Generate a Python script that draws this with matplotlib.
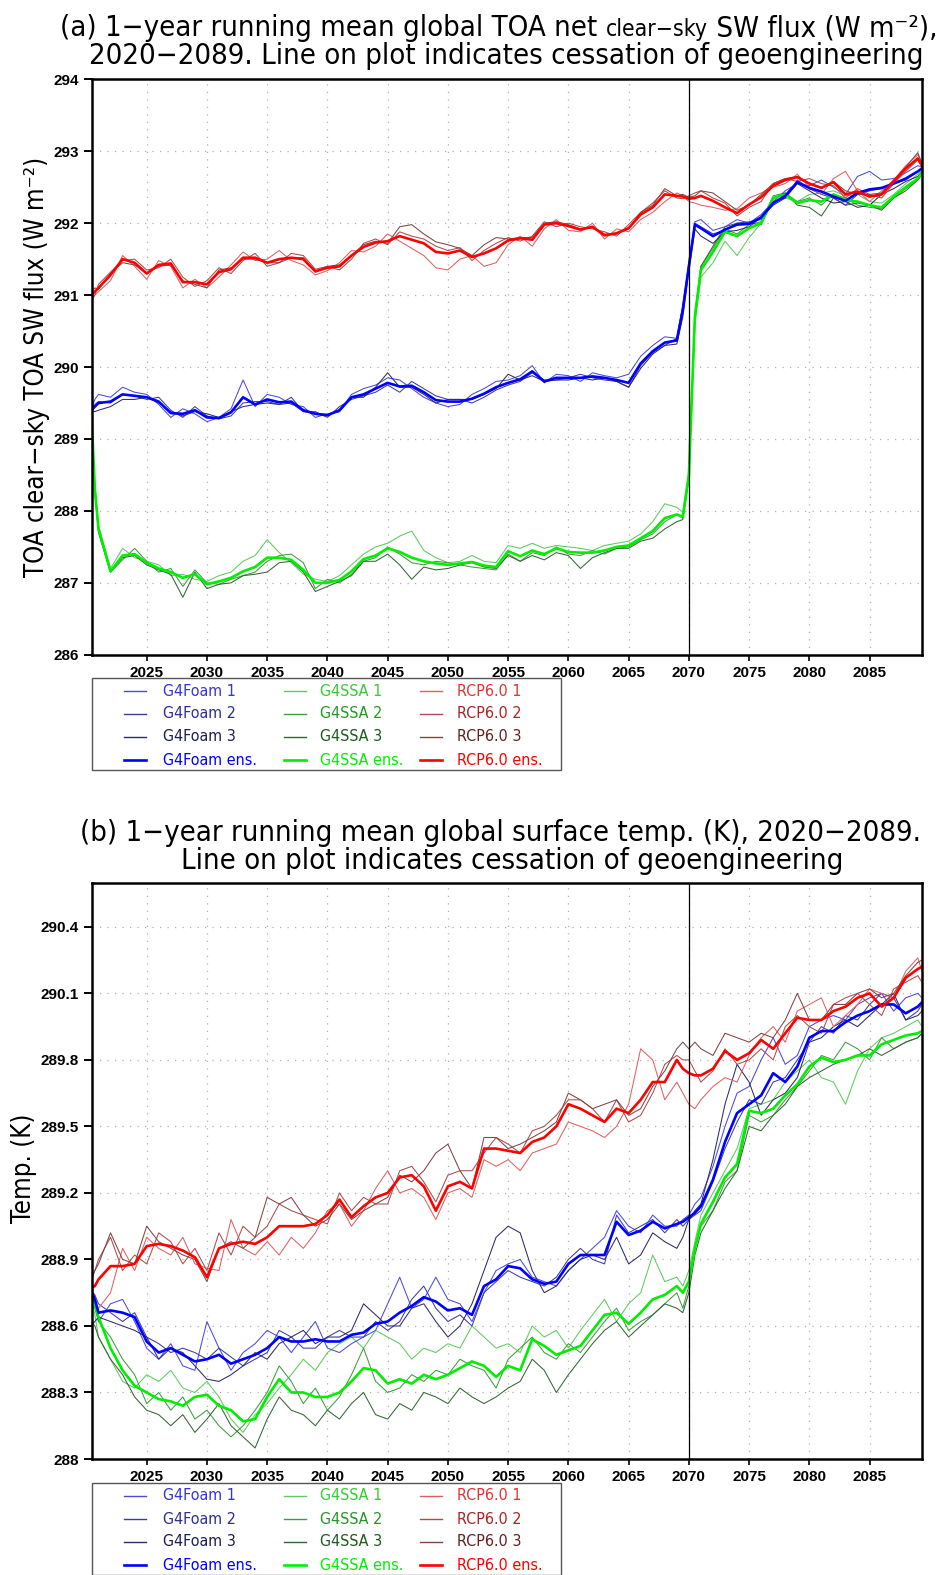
import matplotlib
matplotlib.use('Agg')
import matplotlib.pyplot as plt
from matplotlib.offsetbox import TextArea, HPacker, AnnotationBbox
from matplotlib.lines import Line2D
from matplotlib.patches import Rectangle

# ---------------- data ----------------
# common time axis: start, yearly points, extra points around the 2070 switch-off
YEARS = ([2020.4, 2020.7] + list(range(2021, 2070)) + [2069.5, 2070, 2070.5]
         + list(range(2071, 2090)) + [2089.35])

# (a) TOA clear-sky SW flux
sw_foam_ens = [289.40, 289.45,
    289.50, 289.52, 289.62, 289.60, 289.58, 289.52, 289.36, 289.35, 289.40, 289.30,
    289.29, 289.37, 289.58, 289.48, 289.55, 289.51, 289.52, 289.40, 289.35, 289.33,
    289.40, 289.58, 289.62, 289.70, 289.78, 289.73, 289.74, 289.65, 289.54, 289.52,
    289.52, 289.56, 289.63, 289.72, 289.78, 289.83, 289.94, 289.80, 289.85, 289.85,
    289.85, 289.87, 289.85, 289.82, 289.78, 290.05, 290.22, 290.34, 290.37,
    290.80, 291.40, 291.98,
    291.93, 291.82, 291.91, 291.98, 291.99, 292.08, 292.28, 292.38, 292.57, 292.49,
    292.44, 292.37, 292.31, 292.42, 292.47, 292.49, 292.55, 292.62, 292.72,
    292.76]
sw_foam_1 = [289.40, 289.55,
    289.62, 289.58, 289.72, 289.65, 289.62, 289.48, 289.30, 289.42, 289.35, 289.24,
    289.30, 289.42, 289.82, 289.45, 289.62, 289.58, 289.48, 289.45, 289.30, 289.35,
    289.38, 289.62, 289.70, 289.75, 289.85, 289.82, 289.70, 289.58, 289.50, 289.45,
    289.48, 289.62, 289.70, 289.80, 289.82, 289.88, 290.02, 289.78, 289.90, 289.88,
    289.80, 289.92, 289.88, 289.85, 289.90, 290.15, 290.30, 290.42, 290.40,
    290.85, 291.45, 292.02,
    292.05, 291.90, 291.95, 292.05, 292.00, 292.12, 292.30, 292.45, 292.55, 292.52,
    292.60, 292.50, 292.40, 292.65, 292.72, 292.60, 292.62, 292.70, 292.80,
    292.78]
sw_foam_2 = [289.40, 289.48,
    289.52, 289.50, 289.62, 289.60, 289.55, 289.58, 289.40, 289.30, 289.45, 289.32,
    289.28, 289.32, 289.50, 289.52, 289.52, 289.48, 289.58, 289.38, 289.38, 289.30,
    289.45, 289.55, 289.60, 289.65, 289.75, 289.65, 289.80, 289.70, 289.60, 289.55,
    289.55, 289.50, 289.58, 289.68, 289.75, 289.80, 289.92, 289.82, 289.82, 289.85,
    289.90, 289.85, 289.82, 289.80, 289.72, 290.02, 290.20, 290.30, 290.40,
    290.85, 291.42, 292.00,
    291.95, 291.85, 291.90, 292.00, 292.02, 292.05, 292.30, 292.35, 292.60, 292.48,
    292.40, 292.35, 292.25, 292.40, 292.45, 292.48, 292.55, 292.60, 292.72,
    292.78]
sw_foam_3 = [289.40, 289.38,
    289.40, 289.45, 289.55, 289.55, 289.58, 289.50, 289.38, 289.32, 289.38, 289.35,
    289.30, 289.38, 289.45, 289.48, 289.50, 289.48, 289.50, 289.38, 289.36, 289.34,
    289.38, 289.58, 289.58, 289.72, 289.92, 289.72, 289.72, 289.62, 289.50, 289.55,
    289.55, 289.55, 289.62, 289.70, 289.90, 289.82, 289.88, 289.80, 289.82, 289.82,
    289.85, 289.82, 289.85, 289.80, 289.72, 289.98, 290.18, 290.30, 290.32,
    290.70, 291.35, 291.92,
    291.82, 291.72, 291.88, 291.90, 291.95, 292.08, 292.25, 292.35, 292.55, 292.45,
    292.35, 292.28, 292.30, 292.22, 292.25, 292.40, 292.48, 292.58, 292.65,
    292.72]

sw_ssa_ens = [289.40, 288.30,
    287.75, 287.16, 287.38, 287.40, 287.28, 287.20, 287.15, 287.07, 287.12, 286.98,
    287.02, 287.07, 287.16, 287.22, 287.35, 287.35, 287.32, 287.18, 287.00, 287.00,
    287.04, 287.16, 287.33, 287.38, 287.48, 287.43, 287.35, 287.30, 287.27, 287.25,
    287.27, 287.29, 287.24, 287.22, 287.44, 287.37, 287.45, 287.40, 287.48, 287.43,
    287.42, 287.42, 287.45, 287.50, 287.52, 287.62, 287.72, 287.90, 287.95,
    287.92, 288.50, 290.70,
    291.35, 291.60, 291.88, 291.82, 291.93, 292.00, 292.35, 292.40, 292.28, 292.32,
    292.30, 292.40, 292.32, 292.30, 292.25, 292.22, 292.37, 292.50, 292.62,
    292.70]
sw_ssa_1 = [289.40, 288.35,
    287.80, 287.20, 287.48, 287.35, 287.30, 287.25, 287.10, 287.12, 287.05, 287.02,
    287.10, 287.15, 287.30, 287.38, 287.60, 287.42, 287.28, 287.12, 287.05, 287.02,
    287.10, 287.25, 287.40, 287.50, 287.55, 287.65, 287.72, 287.45, 287.35, 287.28,
    287.30, 287.38, 287.30, 287.28, 287.52, 287.48, 287.55, 287.48, 287.52, 287.50,
    287.48, 287.45, 287.52, 287.55, 287.58, 287.68, 287.85, 288.10, 288.05,
    287.98, 288.55, 290.60,
    291.25, 291.45, 291.75, 291.55, 291.80, 292.00, 292.30, 292.35, 292.30, 292.40,
    292.42, 292.45, 292.38, 292.40, 292.30, 292.28, 292.40, 292.55, 292.68,
    292.75]
sw_ssa_2 = [289.40, 288.25,
    287.72, 287.15, 287.32, 287.48, 287.30, 287.15, 287.20, 286.95, 287.18, 287.00,
    286.98, 287.05, 287.10, 287.15, 287.30, 287.38, 287.40, 287.28, 286.92, 287.05,
    287.00, 287.12, 287.30, 287.35, 287.50, 287.40, 287.28, 287.25, 287.30, 287.28,
    287.25, 287.22, 287.20, 287.18, 287.40, 287.30, 287.42, 287.38, 287.50, 287.40,
    287.38, 287.45, 287.40, 287.48, 287.50, 287.60, 287.68, 287.85, 287.95,
    287.90, 288.48, 290.75,
    291.40, 291.65, 291.92, 291.85, 291.98, 292.02, 292.38, 292.42, 292.30, 292.35,
    292.25, 292.40, 292.35, 292.25, 292.22, 292.20, 292.35, 292.48, 292.60,
    292.68]
sw_ssa_3 = [289.40, 288.28,
    287.70, 287.15, 287.35, 287.38, 287.25, 287.18, 287.12, 286.80, 287.15, 286.92,
    286.98, 287.00, 287.10, 287.12, 287.15, 287.28, 287.30, 287.15, 286.88, 286.95,
    287.02, 287.10, 287.30, 287.30, 287.40, 287.25, 287.05, 287.22, 287.18, 287.20,
    287.25, 287.28, 287.22, 287.20, 287.38, 287.30, 287.38, 287.32, 287.42, 287.38,
    287.20, 287.35, 287.42, 287.48, 287.48, 287.58, 287.62, 287.75, 287.85,
    287.88, 288.45, 290.72,
    291.40, 291.68, 291.95, 292.00, 292.00, 291.98, 292.35, 292.42, 292.25, 292.22,
    292.10, 292.35, 292.25, 292.28, 292.25, 292.18, 292.35, 292.45, 292.60,
    292.68]

sw_rcp_ens = [291.00, 291.05,
    291.10, 291.28, 291.50, 291.45, 291.30, 291.42, 291.44, 291.18, 291.18, 291.15,
    291.32, 291.36, 291.52, 291.52, 291.45, 291.50, 291.52, 291.50, 291.33, 291.38,
    291.40, 291.55, 291.67, 291.73, 291.75, 291.82, 291.77, 291.72, 291.60, 291.58,
    291.62, 291.53, 291.58, 291.65, 291.76, 291.79, 291.77, 291.98, 292.00, 291.96,
    291.91, 291.95, 291.83, 291.86, 291.93, 292.12, 292.22, 292.40, 292.38,
    292.37, 292.34, 292.35,
    292.38, 292.31, 292.22, 292.14, 292.26, 292.36, 292.52, 292.60, 292.64, 292.55,
    292.49, 292.57, 292.40, 292.44, 292.37, 292.40, 292.58, 292.76, 292.90,
    292.80]
sw_rcp_1 = [290.95, 291.00,
    291.05, 291.20, 291.55, 291.40, 291.22, 291.48, 291.40, 291.10, 291.22, 291.10,
    291.25, 291.42, 291.60, 291.48, 291.50, 291.62, 291.48, 291.42, 291.28, 291.34,
    291.45, 291.62, 291.60, 291.68, 291.85, 291.75, 291.65, 291.55, 291.38, 291.35,
    291.50, 291.55, 291.40, 291.45, 291.70, 291.82, 291.68, 291.92, 292.05, 291.90,
    291.88, 292.00, 291.78, 291.92, 291.88, 292.05, 292.15, 292.30, 292.42,
    292.38, 292.30, 292.28,
    292.25, 292.22, 292.18, 292.20, 292.35, 292.42, 292.50, 292.55, 292.68, 292.50,
    292.40, 292.62, 292.72, 292.45, 292.30, 292.45, 292.60, 292.80, 292.95,
    292.85]
sw_rcp_2 = [290.92, 291.00,
    291.15, 291.32, 291.48, 291.50, 291.35, 291.38, 291.50, 291.25, 291.12, 291.20,
    291.38, 291.30, 291.48, 291.58, 291.40, 291.45, 291.58, 291.55, 291.36, 291.40,
    291.35, 291.50, 291.72, 291.78, 291.70, 291.88, 291.82, 291.78, 291.68, 291.62,
    291.66, 291.48, 291.62, 291.72, 291.80, 291.75, 291.82, 292.02, 291.95, 292.00,
    291.95, 291.92, 291.88, 291.82, 291.98, 292.15, 292.28, 292.45, 292.35,
    292.34, 292.38, 292.42,
    292.45, 292.35, 292.28, 292.10, 292.22, 292.30, 292.55, 292.62, 292.58, 292.62,
    292.55, 292.52, 292.35, 292.48, 292.40, 292.35, 292.55, 292.72, 292.88,
    292.78]
sw_rcp_3 = [291.05, 291.10,
    291.08, 291.30, 291.45, 291.42, 291.30, 291.40, 291.42, 291.20, 291.15, 291.10,
    291.35, 291.38, 291.50, 291.50, 291.45, 291.45, 291.52, 291.52, 291.32, 291.40,
    291.42, 291.55, 291.70, 291.75, 291.72, 291.95, 291.98, 291.85, 291.74, 291.70,
    291.65, 291.55, 291.70, 291.80, 291.78, 291.80, 291.80, 292.00, 292.02, 291.98,
    291.92, 291.95, 291.85, 291.85, 291.92, 292.15, 292.25, 292.48, 292.38,
    292.40, 292.36, 292.38,
    292.45, 292.42, 292.30, 292.18, 292.25, 292.40, 292.55, 292.62, 292.65, 292.55,
    292.50, 292.58, 292.45, 292.40, 292.40, 292.42, 292.60, 292.78, 292.98,
    292.82]

# (b) global surface temperature
ts_foam_ens = [288.76, 288.72,
    288.66, 288.67, 288.66, 288.64, 288.53, 288.48, 288.50, 288.47, 288.44, 288.45,
    288.47, 288.43, 288.45, 288.47, 288.50, 288.55, 288.53, 288.53, 288.54, 288.53,
    288.53, 288.56, 288.57, 288.61, 288.62, 288.66, 288.69, 288.73, 288.71, 288.67,
    288.68, 288.65, 288.78, 288.81, 288.87, 288.86, 288.81, 288.79, 288.80, 288.88,
    288.92, 288.92, 288.92, 289.07, 289.01, 289.03, 289.07, 289.04, 289.06,
    289.07, 289.09, 289.11,
    289.14, 289.26, 289.43, 289.56, 289.60, 289.64, 289.74, 289.70, 289.77, 289.90,
    289.93, 289.93, 289.97, 290.00, 290.02, 290.05, 290.05, 290.01, 290.04,
    290.06]
ts_foam_1 = [288.76, 288.70,
    288.62, 288.70, 288.72, 288.62, 288.50, 288.45, 288.52, 288.42, 288.40, 288.62,
    288.50, 288.40, 288.48, 288.52, 288.58, 288.55, 288.48, 288.55, 288.62, 288.50,
    288.48, 288.52, 288.55, 288.58, 288.70, 288.82, 288.68, 288.72, 288.82, 288.72,
    288.70, 288.62, 288.75, 288.85, 288.88, 288.90, 288.82, 288.80, 288.78, 288.85,
    288.90, 288.95, 289.00, 289.12, 289.05, 289.02, 289.10, 289.05, 289.05,
    289.08, 289.10, 289.15,
    289.18, 289.32, 289.50, 289.65, 289.68, 289.80, 289.90, 289.78, 289.82, 289.95,
    289.98, 290.00, 289.98, 290.05, 290.08, 290.10, 290.02, 290.08, 290.10,
    290.08]
ts_foam_2 = [288.76, 288.74,
    288.70, 288.66, 288.62, 288.66, 288.55, 288.52, 288.48, 288.50, 288.48, 288.45,
    288.50, 288.46, 288.42, 288.45, 288.48, 288.58, 288.55, 288.50, 288.50, 288.55,
    288.58, 288.55, 288.55, 288.62, 288.58, 288.62, 288.72, 288.78, 288.68, 288.62,
    288.65, 288.60, 288.75, 288.80, 288.85, 288.82, 288.80, 288.78, 288.82, 288.90,
    288.95, 288.90, 288.88, 289.10, 289.02, 289.05, 289.08, 289.02, 289.08,
    289.05, 289.08, 289.10,
    289.12, 289.25, 289.40, 289.52, 289.62, 289.60, 289.70, 289.72, 289.80, 289.88,
    289.95, 289.92, 290.00, 289.98, 290.05, 290.10, 290.08, 289.98, 290.02,
    290.05]
ts_foam_3 = [288.60, 288.62,
    288.64, 288.62, 288.60, 288.58, 288.55, 288.45, 288.50, 288.48, 288.42, 288.36,
    288.35, 288.38, 288.42, 288.48, 288.45, 288.52, 288.55, 288.58, 288.52, 288.55,
    288.55, 288.58, 288.70, 288.65, 288.60, 288.60, 288.68, 288.70, 288.62, 288.55,
    288.60, 288.70, 288.85, 289.00, 289.05, 289.02, 288.85, 288.75, 288.78, 288.85,
    288.90, 288.92, 288.90, 289.00, 288.88, 288.92, 289.02, 288.98, 288.95,
    289.00, 289.08, 289.12,
    289.15, 289.35, 289.60, 289.78, 289.70, 289.55, 289.62, 289.65, 289.72, 289.88,
    289.90, 289.95, 289.98, 289.95, 290.00, 290.05, 290.10, 289.98, 290.00,
    290.02]

ts_ssa_ens = [288.74, 288.70,
    288.64, 288.50, 288.40, 288.33, 288.30, 288.27, 288.26, 288.24, 288.28, 288.29,
    288.24, 288.22, 288.17, 288.18, 288.28, 288.36, 288.30, 288.30, 288.28, 288.28,
    288.30, 288.35, 288.41, 288.40, 288.34, 288.36, 288.34, 288.38, 288.36, 288.38,
    288.41, 288.44, 288.42, 288.37, 288.42, 288.40, 288.54, 288.51, 288.47, 288.49,
    288.51, 288.58, 288.65, 288.66, 288.61, 288.66, 288.72, 288.74, 288.78,
    288.75, 288.80, 288.95,
    289.06, 289.16, 289.27, 289.33, 289.57, 289.56, 289.58, 289.64, 289.69, 289.77,
    289.81, 289.79, 289.80, 289.82, 289.82, 289.87, 289.89, 289.91, 289.92,
    289.93]
ts_ssa_1 = [288.72, 288.65,
    288.55, 288.45, 288.35, 288.32, 288.38, 288.35, 288.40, 288.32, 288.30, 288.35,
    288.28, 288.18, 288.12, 288.20, 288.25, 288.32, 288.38, 288.45, 288.40, 288.48,
    288.52, 288.55, 288.50, 288.58, 288.55, 288.52, 288.45, 288.50, 288.48, 288.52,
    288.50, 288.60, 288.55, 288.50, 288.52, 288.48, 288.60, 288.55, 288.58, 288.50,
    288.58, 288.65, 288.72, 288.62, 288.70, 288.75, 288.92, 288.80, 288.82,
    288.78, 288.85, 288.98,
    289.10, 289.20, 289.30, 289.40, 289.58, 289.60, 289.62, 289.70, 289.75, 289.80,
    289.72, 289.70, 289.60, 289.75, 289.85, 289.90, 289.92, 289.95, 289.98,
    289.95]
ts_ssa_2 = [288.70, 288.68,
    288.62, 288.55, 288.45, 288.38, 288.25, 288.30, 288.22, 288.28, 288.18, 288.22,
    288.15, 288.10, 288.15, 288.22, 288.30, 288.42, 288.35, 288.25, 288.32, 288.22,
    288.28, 288.38, 288.50, 288.35, 288.30, 288.32, 288.38, 288.35, 288.40, 288.38,
    288.45, 288.42, 288.40, 288.32, 288.45, 288.50, 288.55, 288.48, 288.45, 288.52,
    288.48, 288.55, 288.62, 288.68, 288.58, 288.62, 288.65, 288.70, 288.75,
    288.68, 288.78, 288.95,
    289.05, 289.12, 289.25, 289.30, 289.55, 289.52, 289.55, 289.62, 289.68, 289.75,
    289.82, 289.80, 289.88, 289.85, 289.80, 289.90, 289.85, 289.88, 289.90,
    289.92]
ts_ssa_3 = [288.62, 288.60,
    288.55, 288.45, 288.38, 288.28, 288.22, 288.20, 288.15, 288.20, 288.12, 288.18,
    288.25, 288.15, 288.10, 288.05, 288.18, 288.28, 288.22, 288.20, 288.15, 288.22,
    288.18, 288.25, 288.30, 288.20, 288.18, 288.25, 288.22, 288.30, 288.28, 288.25,
    288.32, 288.28, 288.25, 288.28, 288.32, 288.35, 288.45, 288.40, 288.30, 288.38,
    288.45, 288.52, 288.58, 288.62, 288.55, 288.60, 288.65, 288.70, 288.68,
    288.66, 288.75, 288.92,
    289.02, 289.12, 289.22, 289.30, 289.50, 289.48, 289.55, 289.60, 289.68, 289.72,
    289.75, 289.78, 289.80, 289.82, 289.85, 289.82, 289.85, 289.88, 289.90,
    289.92]

ts_rcp_ens = [288.77, 288.78,
    288.81, 288.87, 288.87, 288.88, 288.96, 288.97, 288.96, 288.94, 288.91, 288.82,
    288.95, 288.97, 288.98, 288.97, 289.00, 289.05, 289.05, 289.05, 289.06, 289.10,
    289.17, 289.09, 289.14, 289.18, 289.20, 289.27, 289.28, 289.23, 289.12, 289.23,
    289.25, 289.22, 289.40, 289.40, 289.39, 289.38, 289.43, 289.45, 289.50, 289.60,
    289.58, 289.55, 289.52, 289.58, 289.56, 289.62, 289.70, 289.70, 289.80,
    289.76, 289.74, 289.73,
    289.73, 289.76, 289.84, 289.80, 289.83, 289.89, 289.85, 289.92, 289.99, 289.98,
    289.98, 290.02, 290.04, 290.08, 290.10, 290.04, 290.08, 290.17, 290.21,
    290.22]
ts_rcp_1 = [288.72, 288.70,
    288.68, 288.75, 288.95, 288.85, 289.00, 288.95, 288.92, 289.00, 288.88, 288.86,
    288.85, 289.08, 288.95, 288.92, 288.98, 288.92, 289.00, 288.95, 289.02, 289.12,
    289.15, 289.05, 289.12, 289.22, 289.30, 289.20, 289.22, 289.18, 289.08, 289.20,
    289.22, 289.18, 289.35, 289.32, 289.35, 289.30, 289.38, 289.40, 289.42, 289.52,
    289.50, 289.48, 289.45, 289.50, 289.60, 289.85, 289.80, 289.62, 289.70,
    289.65, 289.60, 289.58,
    289.62, 289.68, 289.72, 289.70, 289.82, 289.90, 289.95, 289.88, 290.02, 290.05,
    290.08, 289.95, 290.00, 290.05, 290.12, 290.10, 290.08, 290.20, 290.26,
    290.20]
ts_rcp_2 = [288.80, 288.85,
    288.90, 289.00, 288.85, 288.92, 288.88, 289.02, 288.98, 288.88, 288.95, 288.85,
    289.02, 288.92, 289.05, 289.00, 289.05, 289.15, 289.12, 289.10, 289.08, 289.06,
    289.20, 289.12, 289.18, 289.15, 289.15, 289.30, 289.32, 289.25, 289.16, 289.28,
    289.30, 289.30, 289.38, 289.45, 289.42, 289.38, 289.48, 289.50, 289.55, 289.62,
    289.62, 289.58, 289.52, 289.62, 289.52, 289.55, 289.65, 289.78, 289.82,
    289.80, 289.80, 289.75,
    289.70, 289.75, 289.85, 289.78, 289.80, 289.85, 289.80, 289.95, 290.00, 289.95,
    289.92, 290.05, 290.08, 290.10, 290.05, 290.00, 290.12, 290.15, 290.18,
    290.15]
ts_rcp_3 = [288.82, 288.85,
    288.88, 289.02, 288.90, 288.88, 289.05, 288.98, 288.95, 288.92, 288.90, 288.80,
    288.95, 288.98, 288.95, 289.00, 289.18, 289.15, 289.18, 289.10, 289.05, 289.08,
    289.15, 289.08, 289.12, 289.15, 289.18, 289.28, 289.25, 289.30, 289.38, 289.42,
    289.30, 289.22, 289.45, 289.45, 289.40, 289.42, 289.45, 289.48, 289.52, 289.65,
    289.62, 289.58, 289.60, 289.62, 289.55, 289.58, 289.68, 289.75, 289.85,
    289.88, 289.85, 289.88,
    289.85, 289.82, 289.92, 289.90, 289.88, 289.92, 289.90, 289.98, 290.10, 289.98,
    289.98, 290.05, 290.05, 290.10, 290.12, 290.08, 290.10, 290.18, 290.24,
    290.25]

LABELS = ['G4Foam 1', 'G4Foam 2', 'G4Foam 3', 'G4Foam ens.',
          'G4SSA 1', 'G4SSA 2', 'G4SSA 3', 'G4SSA ens.',
          'RCP6.0 1', 'RCP6.0 2', 'RCP6.0 3', 'RCP6.0 ens.']
LINE_COLORS = ['#4a4ae0', '#3c3ca8', '#2c2c66', '#0000ff',
               '#5ccc5c', '#3f9c3f', '#336633', '#00ee00',
               '#e06060', '#b04a4a', '#804444', '#ff0000']
TEXT_COLORS = ['#3535d8', '#2e2e95', '#1e1e50', '#0000ff',
               '#33cc33', '#229922', '#1c5c1c', '#00ee00',
               '#e03535', '#aa2525', '#662020', '#ff0000']

SW_SERIES = [sw_foam_1, sw_foam_2, sw_foam_3, sw_foam_ens,
             sw_ssa_1, sw_ssa_2, sw_ssa_3, sw_ssa_ens,
             sw_rcp_1, sw_rcp_2, sw_rcp_3, sw_rcp_ens]
TS_SERIES = [ts_foam_1, ts_foam_2, ts_foam_3, ts_foam_ens,
             ts_ssa_1, ts_ssa_2, ts_ssa_3, ts_ssa_ens,
             ts_rcp_1, ts_rcp_2, ts_rcp_3, ts_rcp_ens]

# ---------------- figure ----------------
W, H = 944, 1575
fig = plt.figure(figsize=(W / 100, H / 100), dpi=100)
TFONT = dict(family='DejaVu Sans', stretch='condensed')


def fx(px):
    return px / W


def fy(py):
    return 1 - py / H


def panel(top, bottom, ylim, yticks, yticklabels, series):
    ax = fig.add_axes([fx(91.5), fy(bottom), fx(922) - fx(91.5), fy(top) - fy(bottom)])
    # members first, ensemble means on top
    for i in [4, 5, 6, 0, 1, 2, 8, 9, 10]:
        ax.plot(YEARS, series[i], color=LINE_COLORS[i], lw=0.75)
    for i in [7, 3, 11]:
        ax.plot(YEARS, series[i], color=LINE_COLORS[i], lw=1.9)
    ax.axvline(2070, color='black', lw=0.9)
    ax.set_xlim(2020.42, 2089.35)
    ax.set_ylim(*ylim)
    ax.set_xticks(range(2025, 2090, 5))
    ax.set_yticks(yticks)
    ax.set_yticklabels(yticklabels)
    ax.tick_params(axis='y', direction='out', length=6, width=1.4, labelsize=11, pad=3)
    ax.tick_params(axis='x', direction='out', length=4, width=1.2, labelsize=11, pad=4)
    for lab in ax.get_xticklabels() + ax.get_yticklabels():
        lab.set_fontweight('bold')
        lab.set_family('Liberation Sans')
    ax.grid(True, color='#b0b0b0', linestyle=(0, (1, 5)), lw=0.9)
    for s in ax.spines.values():
        s.set_linewidth(1.8)
    return ax


def legend(top):
    fig.add_artist(Rectangle((fx(91.5), fy(top + 92)), fx(561) - fx(91.5), 92 / H,
                             transform=fig.transFigure, fill=False,
                             edgecolor='#555555', lw=1.0))
    hx = [124, 283.5, 420]
    tx = [163, 320, 457]
    for c in range(3):
        for r in range(4):
            k = c * 4 + r
            y = fy(top + 13 + 23 * r)
            fig.add_artist(Line2D([fx(hx[c]), fx(hx[c] + 22)], [y, y],
                                  transform=fig.transFigure, color=LINE_COLORS[k],
                                  lw=1.9 if r == 3 else 1.0))
            fig.text(fx(tx[c]), y, LABELS[k], color=TEXT_COLORS[k], fontsize=11.5,
                     va='center', ha='left', **TFONT)


def title_line(parts, cx, cy):
    boxes = [TextArea(t, textprops=dict(size=s, **TFONT)) for t, s in parts]
    pack = HPacker(children=boxes, align='baseline', pad=0, sep=0)
    fig.add_artist(AnnotationBbox(pack, (fx(cx), fy(cy)), xycoords='figure fraction',
                                  frameon=False, box_alignment=(0.5, 0.5), pad=0))


# (a)
panel(79.3, 654.8, (286, 294), range(286, 295), [str(v) for v in range(286, 295)], SW_SERIES)
title_line([('(a) 1\u2212year running mean global TOA net ', 21),
            ('clear\u2212sky', 16.5), (' SW flux (W m\u207b\u00b2),', 21)], 499, 28)
title_line([('2020\u22122089. Line on plot indicates cessation of geoengineering', 21)], 506, 56)
fig.text(fx(37), fy(367), 'TOA clear\u2212sky TOA SW flux (W m\u207b\u00b2)', rotation=90,
         ha='center', va='center', fontsize=18.5, **TFONT)
legend(678)

# (b)
ticks_b = [288, 288.3, 288.6, 288.9, 289.2, 289.5, 289.8, 290.1, 290.4]
panel(882.5, 1459, (288, 290.6), ticks_b, ['288'] + [f'{v:.1f}' for v in ticks_b[1:]], TS_SERIES)
title_line([('(b) 1\u2212year running mean global surface temp. (K), 2020\u22122089.', 21)], 500, 833)
title_line([('Line on plot indicates cessation of geoengineering', 21)], 512, 861)
fig.text(fx(24), fy(1168), 'Temp. (K)', rotation=90,
         ha='center', va='center', fontsize=18.5, **TFONT)
legend(1483)

fig.savefig('out.png', dpi=100)
